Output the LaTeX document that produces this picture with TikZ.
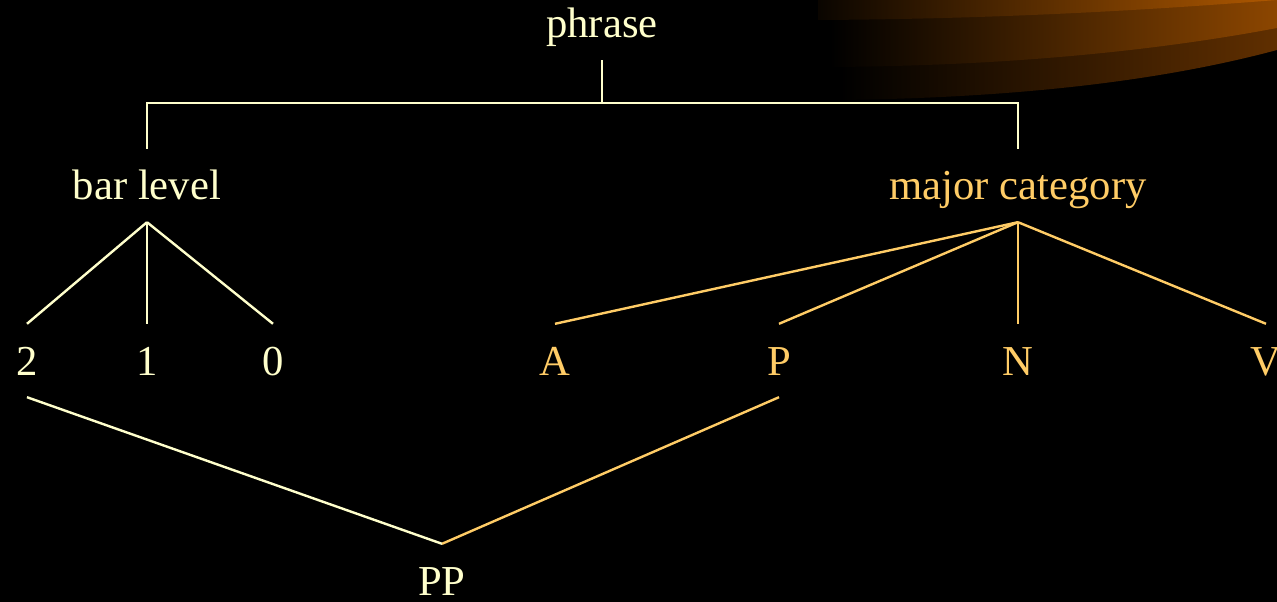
\documentclass[tikz,border=0pt]{standalone}
\usepackage{fontspec}
\setmainfont{Liberation Serif}
\begin{document}
\begin{tikzpicture}[x=0.75pt,y=-0.75pt,line width=1.8pt,
  every node/.style={anchor=base, inner sep=0pt, text height=37.5pt, text depth=15.75pt, font=\fontsize{32}{38}\selectfont},
  cream/.style={color={rgb,255:red,255;green,255;blue,204}},
  gold/.style={color={rgb,255:red,255;green,204;blue,102}}]
\fill[black] (0,0) rectangle (1277,602);
\useasboundingbox (0,0) rectangle (1277,602);
% swoosh in the corner
\shade[left color=black, right color={rgb,255:red,96;green,47;blue,0}] (840,0) -- (840,100) .. controls (1000,98) and (1150,84) .. (1277,50) -- (1277,0) -- cycle;
\shade[left color=black, right color={rgb,255:red,140;green,70;blue,0}] (830,0) -- (830,67) .. controls (1000,66) and (1150,52) .. (1277,28) -- (1277,0) -- cycle;
\shade[left color={rgb,255:red,10;green,5;blue,0}, right color={rgb,255:red,175;green,88;blue,0}] (818,0) -- (818,20) .. controls (1000,19) and (1150,10) .. (1277,0) -- cycle;
% labels
\node[cream] (phrase) at (602,38) {phrase};
\node[cream] (bar) at (147,200) {bar level};
\node[gold] (major) at (1018,200) {major category};
\node[cream] (two) at (27,375) {2};
\node[cream] (one) at (147,375) {1};
\node[cream] (zero) at (273,375) {0};
\node[gold] (A) at (555,375) {A};
\node[gold] (P) at (779,375) {P};
\node[gold] (N) at (1018,375) {N};
\node[gold] (V) at (1266,375) {V};
\node[cream] (PP) at (442,595) {PP};
\coordinate (fork) at (602,103);
% branches
\draw[cream] (phrase.south) -- (fork);
\draw[cream] (bar.north) |- (fork) -| (major.north);
\foreach \k in {two,one,zero} \draw[cream] (bar.south) -- (\k.north);
\foreach \k in {A,P,N,V} \draw[gold] (major.south) -- (\k.north);
\draw[cream] (two.south) -- (PP.north);
\draw[gold] (P.south) -- (PP.north);
\end{tikzpicture}
\end{document}
